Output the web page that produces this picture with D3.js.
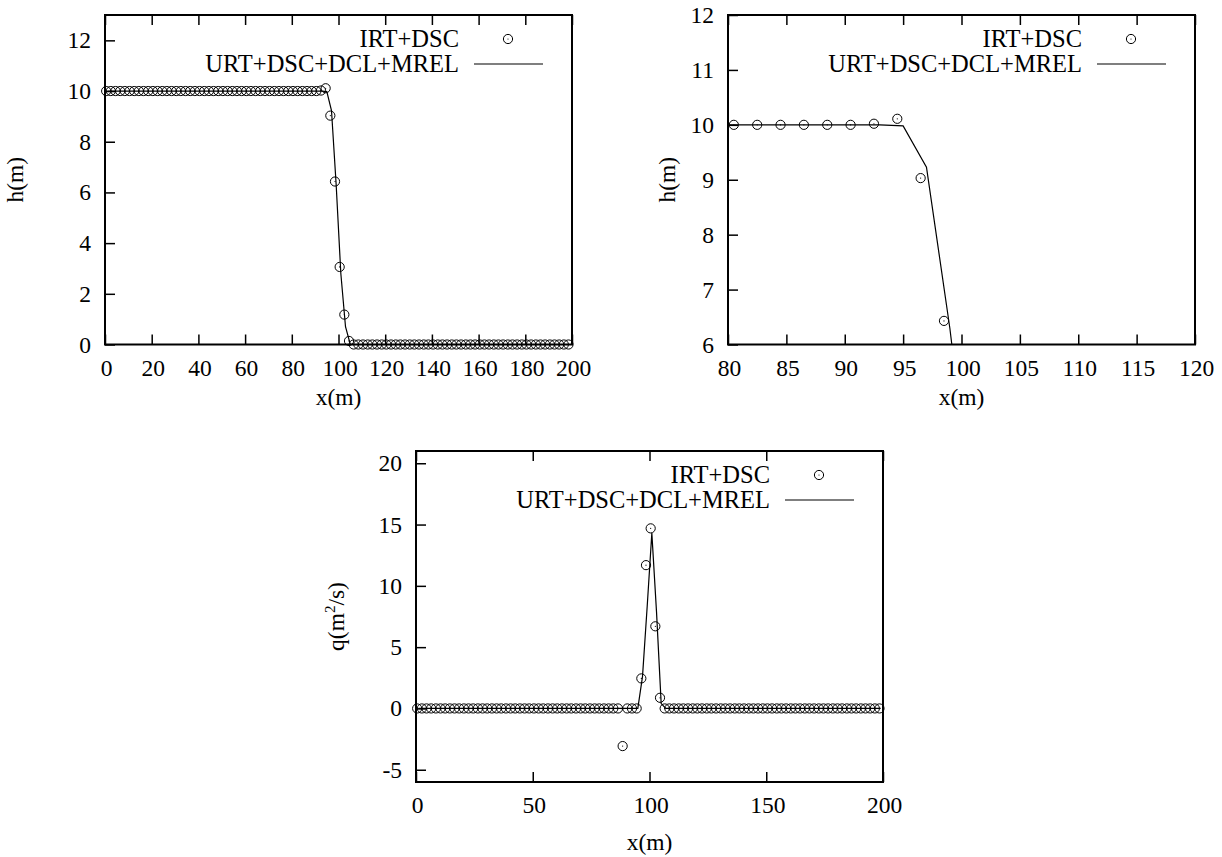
<!DOCTYPE html>
<html><head><meta charset="utf-8">
<script src="https://cdn.jsdelivr.net/npm/d3@7"></script>
<style>
body{margin:0;background:#fff}
svg{display:block}
svg text{font-family:"Liberation Serif","Tinos","Times New Roman",serif !important;fill:#000}
</style>
</head><body>
<svg id="c" width="1222" height="857"></svg>
<script>
// ---------------- data ----------------
const seriesNames = ["IRT+DSC", "URT+DSC+DCL+MREL"];

// IRT+DSC sample positions (m)
const xCircle = [
  0.5,2.5,4.5,6.5,8.5,10.5,12.5,14.5,16.5,18.5,
  20.5,22.5,24.5,26.5,28.5,30.5,32.5,34.5,36.5,38.5,
  40.5,42.5,44.5,46.5,48.5,50.5,52.5,54.5,56.5,58.5,
  60.5,62.5,64.5,66.5,68.5,70.5,72.5,74.5,76.5,78.5,
  80.5,82.5,84.5,86.5,88.5,90.5,92.5,94.5,96.5,98.5,
  100.5,102.5,104.5,106.5,108.5,110.5,112.5,114.5,116.5,118.5,
  120.5,122.5,124.5,126.5,128.5,130.5,132.5,134.5,136.5,138.5,
  140.5,142.5,144.5,146.5,148.5,150.5,152.5,154.5,156.5,158.5,
  160.5,162.5,164.5,166.5,168.5,170.5,172.5,174.5,176.5,178.5,
  180.5,182.5,184.5,186.5,188.5,190.5,192.5,194.5,196.5,198.5
];
// IRT+DSC water depth h (m)
const hCircle = [
  10,10,10,10,10,10,10,10,10,10,
  10,10,10,10,10,10,10,10,10,10,
  10,10,10,10,10,10,10,10,10,10,
  10,10,10,10,10,10,10,10,10,10,
  10,10,10,10,10,10,10.02,10.11,9.03,6.43,
  3.06,1.18,0.14,0,0,0,0,0,0,0,
  0,0,0,0,0,0,0,0,0,0,
  0,0,0,0,0,0,0,0,0,0,
  0,0,0,0,0,0,0,0,0,0,
  0,0,0,0,0,0,0,0,0,0
];
// IRT+DSC discharge q (m^2/s)
const qCircle = [
  0,0,0,0,0,0,0,0,0,0,
  0,0,0,0,0,0,0,0,0,0,
  0,0,0,0,0,0,0,0,0,0,
  0,0,0,0,0,0,0,0,0,0,
  0,0,0,0,-3.07,0,0,0,2.45,11.69,
  14.69,6.7,0.87,0,0,0,0,0,0,0,
  0,0,0,0,0,0,0,0,0,0,
  0,0,0,0,0,0,0,0,0,0,
  0,0,0,0,0,0,0,0,0,0,
  0,0,0,0,0,0,0,0,0,0
];

// URT+DSC+DCL+MREL sample positions (m)
const xLine = [
  1,3,5,7,9,11,13,15,17,19,
  21,23,25,27,29,31,33,35,37,39,
  41,43,45,47,49,51,53,55,57,59,
  61,63,65,67,69,71,73,75,77,79,
  81,83,85,87,89,91,93,95,97,99,
  101,103,105,107,109,111,113,115,117,119,
  121,123,125,127,129,131,133,135,137,139,
  141,143,145,147,149,151,153,155,157,159,
  161,163,165,167,169,171,173,175,177,179,
  181,183,185,187,189,191,193,195,197,199
];
const hLine = [
  10,10,10,10,10,10,10,10,10,10,
  10,10,10,10,10,10,10,10,10,10,
  10,10,10,10,10,10,10,10,10,10,
  10,10,10,10,10,10,10,10,10,10,
  10,10,10,10,10,10,10,9.98,9.23,6.3,
  2.8,0.7,0.02,0,0,0,0,0,0,0,
  0,0,0,0,0,0,0,0,0,0,
  0,0,0,0,0,0,0,0,0,0,
  0,0,0,0,0,0,0,0,0,0,
  0,0,0,0,0,0,0,0,0,0
];
const qLine = [
  0,0,0,0,0,0,0,0,0,0,
  0,0,0,0,0,0,0,0,0,0,
  0,0,0,0,0,0,0,0,0,0,
  0,0,0,0,0,0,0,0,0,0,
  0,0,0,0,0,0,0,0,2.6,8.3,
  14.3,7.9,0.4,0,0,0,0,0,0,0,
  0,0,0,0,0,0,0,0,0,0,
  0,0,0,0,0,0,0,0,0,0,
  0,0,0,0,0,0,0,0,0,0,
  0,0,0,0,0,0,0,0,0,0
];

// tick labels
const p1XTicks = [0,20,40,60,80,100,120,140,160,180,200];
const p1YTicks = [0,2,4,6,8,10,12];
const p2XTicks = [80,85,90,95,100,105,110,115,120];
const p2YTicks = [6,7,8,9,10,11,12];
const p3XTicks = [0,50,100,150,200];
const p3YTicks = [-5,0,5,10,15,20];

// ---------------- drawing ----------------
const svg = d3.select("#c");
const FONT = "'Liberation Serif','Tinos','Times New Roman',serif";
const FS = 23.5;
const LFS = 24.5;
let clipN = 0;

function panel(o) {
  const x = d3.scaleLinear().domain(o.xDomain).range([o.left, o.right]);
  const y = d3.scaleLinear().domain(o.yDomain).range([o.bottom, o.top]);
  const g = svg.append("g").attr("font-family", FONT);
  const cid = "clip" + (clipN++);
  g.append("clipPath").attr("id", cid).append("rect")
    .attr("x", o.left).attr("y", o.top)
    .attr("width", o.right - o.left).attr("height", o.bottom - o.top);

  const styleAxis = sel => {
    sel.attr("font-family", FONT);
    sel.select(".domain").remove();
    sel.selectAll(".tick line").attr("stroke", "#000").attr("stroke-width", 1.5);
    sel.selectAll(".tick text").attr("font-size", FS).attr("fill", "#000");
  };
  const fmt = d => String(d);

  g.append("g").attr("transform", `translate(0,${o.bottom})`)
    .call(d3.axisBottom(x).tickValues(o.xTicks).tickSizeInner(-10).tickSizeOuter(0)
      .tickPadding(14.5).tickFormat(fmt))
    .call(styleAxis)
    .selectAll(".tick text").attr("dx", 1);
  g.append("g").attr("transform", `translate(0,${o.top})`)
    .call(d3.axisTop(x).tickValues(o.xTicks).tickSizeInner(-10).tickSizeOuter(0).tickFormat(""))
    .call(styleAxis);
  g.append("g").attr("transform", `translate(${o.left},0)`)
    .call(d3.axisLeft(y).tickValues(o.yTicks).tickSizeInner(-10).tickSizeOuter(0)
      .tickPadding(14).tickFormat(fmt))
    .call(styleAxis);

  // line series
  const pts = xLine.map((xv, i) => [xv, o.lineY[i]]);
  const line = d3.line().x(d => x(d[0])).y(d => y(d[1]));
  g.append("path").attr("d", line(pts)).attr("clip-path", `url(#${cid})`)
    .attr("fill", "none").attr("stroke", "#000").attr("stroke-width", 1.2);

  // circle series
  const cpts = xCircle.map((xv, i) => [xv, o.circY[i]])
    .filter(d => d[0] >= o.xDomain[0] && d[0] <= o.xDomain[1] && d[1] >= o.yDomain[0] && d[1] <= o.yDomain[1]);
  const cg = g.append("g");
  cg.selectAll("circle.o").data(cpts).join("circle").attr("class", "o")
    .attr("cx", d => x(d[0])).attr("cy", d => y(d[1])).attr("r", 4.6)
    .attr("fill", "none").attr("stroke", "#000").attr("stroke-width", 1);
  cg.selectAll("circle.d").data(cpts).join("circle").attr("class", "d")
    .attr("cx", d => x(d[0])).attr("cy", d => y(d[1])).attr("r", 0.6).attr("fill", "#000");

  // frame
  g.append("rect").attr("x", o.left).attr("y", o.top)
    .attr("width", o.right - o.left).attr("height", o.bottom - o.top)
    .attr("fill", "none").attr("stroke", "#000").attr("stroke-width", 2);

  // legend
  const lg = g.append("g");
  const r1 = o.top + 24, r2 = o.top + 49;
  lg.append("text").attr("x", o.right - 113).attr("y", r1 + 8).attr("text-anchor", "end")
    .attr("font-size", LFS).text(seriesNames[0]);
  lg.append("text").attr("x", o.right - 113).attr("y", r2 + 8).attr("text-anchor", "end")
    .attr("font-size", LFS).text(seriesNames[1]);
  lg.append("circle").attr("cx", o.right - 64).attr("cy", r1).attr("r", 4.6)
    .attr("fill", "none").attr("stroke", "#000").attr("stroke-width", 1);
  lg.append("circle").attr("cx", o.right - 64).attr("cy", r1).attr("r", 0.6).attr("fill", "#000");
  lg.append("line").attr("x1", o.right - 98).attr("x2", o.right - 29)
    .attr("y1", r2).attr("y2", r2).attr("stroke", "#000").attr("stroke-width", 1.2);

  // axis titles
  g.append("text").attr("x", (o.left + o.right) / 2).attr("y", o.xTitleY)
    .attr("text-anchor", "middle").attr("font-size", FS).text("x(m)");
  const yt = g.append("text").attr("text-anchor", "middle").attr("font-size", FS)
    .attr("transform", `translate(${o.yTitleX},${(o.top + o.bottom) / 2}) rotate(-90)`);
  if (o.yTitle === "q") {
    yt.append("tspan").text("q(m");
    yt.append("tspan").attr("font-size", 15).attr("dy", -9).text("2");
    yt.append("tspan").attr("dy", 9).text("/s)");
  } else {
    yt.text("h(m)");
  }
}

panel({left:105, right:572, top:15, bottom:344.5, xDomain:[0,200], yDomain:[0,13],
  xTicks:p1XTicks, yTicks:p1YTicks, lineY:hLine, circY:hCircle,
  xTitleY:405, yTitleX:23, yTitle:"h"});
panel({left:728, right:1195, top:15, bottom:344.5, xDomain:[80,120], yDomain:[6,12],
  xTicks:p2XTicks, yTicks:p2YTicks, lineY:hLine, circY:hCircle,
  xTitleY:405, yTitleX:675, yTitle:"h"});
panel({left:416, right:883, top:451, bottom:782, xDomain:[0,200], yDomain:[-6,21],
  xTicks:p3XTicks, yTicks:p3YTicks, lineY:qLine, circY:qCircle,
  xTitleY:850, yTitleX:344, yTitle:"q"});
</script>
</body></html>
